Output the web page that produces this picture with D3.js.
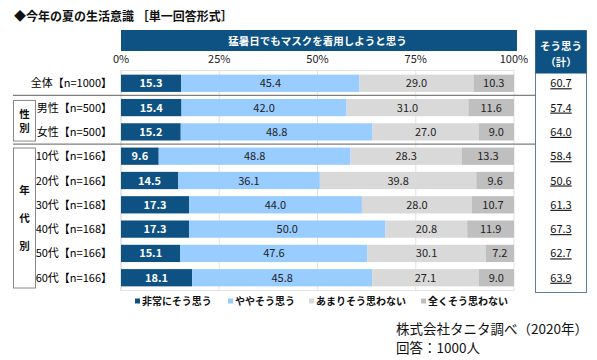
<!DOCTYPE html>
<html>
<head>
<meta charset="utf-8">
<script src="https://cdn.jsdelivr.net/npm/d3@7"></script>
<style>
  body { margin: 0; background: #fff; }
  svg { font-family: "Noto Sans CJK JP", "Noto Sans", sans-serif; }
</style>
</head>
<body>
<svg id="chart" width="597" height="360"></svg>
<script>
let categories = ["全体【n=1000】", "男性【n=500】", "女性【n=500】", "10代【n=166】", "20代【n=166】",
  "30代【n=168】", "40代【n=168】", "50代【n=166】", "60代【n=166】"];
let seriesNames = ["非常にそう思う", "ややそう思う", "あまりそう思わない", "全くそう思わない"];
let veryMuch = [15.3, 15.4, 15.2, 9.6, 14.5, 17.3, 17.3, 15.1, 18.1];
let somewhat = [45.4, 42.0, 48.8, 48.8, 36.1, 44.0, 50.0, 47.6, 45.8];
let notMuch = [29.0, 31.0, 27.0, 28.3, 39.8, 28.0, 20.8, 30.1, 27.1];
let notAtAll = [10.3, 11.6, 9.0, 13.3, 9.6, 10.7, 11.9, 7.2, 9.0];
let totals = ["60.7", "57.4", "64.0", "58.4", "50.6", "61.3", "67.3", "62.7", "63.9"];
let ticks = [0, 25, 50, 75, 100];
let colors = ["#0e5183", "#99ccff", "#d9d9d9", "#bfbfbf"];
let textColors = ["#fff", "#222", "#222", "#222"];

let svg = d3.select("#chart");

let x = d3.scaleLinear().domain([0, 100]).range([121, 514]);
let y = d3.scaleBand().domain(categories).range([71, 290]).paddingInner(0.29).paddingOuter(0.15);

// title
svg.append("text").attr("x", 14).attr("y", 21)
  .attr("font-size", 12).attr("font-weight", "bold").attr("fill", "#111")
  .text("◆今年の夏の生活意識 ［単一回答形式］");

// header bar
svg.append("rect").attr("x", x(0)).attr("y", 30).attr("width", x(100) - x(0) + 3).attr("height", 21)
  .attr("fill", "#0e5183");
svg.append("text").attr("x", (x(0) + x(100)) / 2).attr("y", 45)
  .attr("text-anchor", "middle").attr("font-size", 10.5).attr("font-weight", "bold").attr("fill", "#fff")
  .text("猛暑日でもマスクを着用しようと思う");

// grid + ticks
svg.append("g").selectAll("line").data(ticks.slice(1)).join("line")
  .attr("x1", d => x(d)).attr("x2", d => x(d)).attr("y1", 70).attr("y2", 291)
  .attr("stroke", "#e4e4e4").attr("stroke-width", 1);
svg.append("line").attr("x1", x(0)).attr("x2", x(0)).attr("y1", 70).attr("y2", 291)
  .attr("stroke", "#d0d0d0");
svg.append("line").attr("x1", x(0)).attr("x2", x(100)).attr("y1", 70.5).attr("y2", 70.5)
  .attr("stroke", "#e4e4e4");
svg.append("line").attr("x1", x(0)).attr("x2", x(100)).attr("y1", 290.5).attr("y2", 290.5)
  .attr("stroke", "#e4e4e4");
svg.append("g").selectAll("text").data(ticks).join("text")
  .attr("x", d => x(d)).attr("y", 63).attr("text-anchor", "middle")
  .attr("font-size", 11).attr("fill", "#222").text(d => d + "%");

// stacked bars
let rows = categories.map((c, i) => ({cat: c, vals: [veryMuch[i], somewhat[i], notMuch[i], notAtAll[i]]}));
let stack = d3.stack().keys([0, 1, 2, 3]).value((d, k) => d.vals[k]);
let layers = stack(rows);

let g = svg.append("g");
layers.forEach((layer, k) => {
  g.append("g").selectAll("rect").data(layer).join("rect")
    .attr("x", d => x(d[0])).attr("y", d => y(d.data.cat))
    .attr("width", d => x(d[1]) - x(d[0])).attr("height", y.bandwidth())
    .attr("fill", colors[k]);
  g.append("g").selectAll("text").data(layer).join("text")
    .attr("x", d => x((d[0] + d[1]) / 2)).attr("y", d => y(d.data.cat) + y.bandwidth() / 2 + 4)
    .attr("text-anchor", "middle").attr("font-size", 11)
    .attr("font-weight", k === 0 ? "bold" : "normal")
    .attr("fill", textColors[k]).text(d => d.data.vals[k].toFixed(1));
});

// category labels
svg.append("g").selectAll("text").data(categories).join("text")
  .attr("x", 112).attr("y", d => y(d) + y.bandwidth() / 2 + 4)
  .attr("text-anchor", "end").attr("font-size", 11)
  .attr("fill", "#000").text(d => d);

// group separators
let sep1 = (y(categories[0]) + y.bandwidth() + y(categories[1])) / 2;
let sep2 = (y(categories[2]) + y.bandwidth() + y(categories[3])) / 2;
[sep1, sep2].forEach(s => {
  svg.append("line").attr("x1", 13).attr("x2", 587).attr("y1", s).attr("y2", s)
    .attr("stroke", "#7f7f7f").attr("stroke-width", 1.2);
});

// group boxes
function groupBox(y0, y1, chars, gap) {
  svg.append("rect").attr("x", 13.5).attr("y", y0).attr("width", 22).attr("height", y1 - y0)
    .attr("fill", "#fff").attr("stroke", "#888");
  let mid = (y0 + y1) / 2;
  chars.forEach((ch, i) => {
    let cy = mid + (i - (chars.length - 1) / 2) * gap;
    svg.append("text").attr("x", 24.5).attr("y", cy + 4)
      .attr("text-anchor", "middle").attr("font-size", 10.5).attr("font-weight", "bold")
      .attr("fill", "#111").text(ch);
  });
}
groupBox(sep1 + 5, sep2 - 3, ["性", "別"], 14);
groupBox(sep2 + 4, 288, ["年", "代", "別"], 28);

// right column
svg.append("rect").attr("x", 535.5).attr("y", 30.5).attr("width", 51).attr("height", 262)
  .attr("fill", "#fff").attr("stroke", "#5b7f9e");
svg.append("rect").attr("x", 535.5).attr("y", 30.5).attr("width", 51).attr("height", 43)
  .attr("fill", "#0e5183");
svg.append("text").attr("x", 561).attr("y", 50).attr("text-anchor", "middle")
  .attr("font-size", 10.5).attr("font-weight", "bold").attr("fill", "#fff").text("そう思う");
svg.append("text").attr("x", 561).attr("y", 66).attr("text-anchor", "middle")
  .attr("font-size", 10.5).attr("font-weight", "bold").attr("fill", "#fff").text("（計）");
svg.append("g").selectAll("text").data(totals).join("text")
  .attr("x", 561).attr("y", (d, i) => y(categories[i]) + y.bandwidth() / 2 + 4)
  .attr("text-anchor", "middle").attr("font-size", 11).attr("fill", "#111")
  .attr("text-decoration", "underline").text(d => d);

// legend
let legendX = [135, 228, 309, 421];
let legend = svg.append("g").selectAll("g").data(seriesNames).join("g")
  .attr("transform", (d, i) => `translate(${legendX[i]},305)`);
legend.append("rect").attr("x", 0).attr("y", -6.5).attr("width", 5).attr("height", 5)
  .attr("fill", (d, i) => colors[i]);
legend.append("text").attr("x", 7).attr("y", 0).attr("font-size", 10).attr("font-weight", "bold")
  .attr("fill", "#111").text(d => d);

// source
svg.append("text").attr("x", 396).attr("y", 334).attr("font-size", 13.5).attr("fill", "#111")
  .text("株式会社タニタ調べ（2020年）");
svg.append("text").attr("x", 396).attr("y", 353).attr("font-size", 13.5).attr("fill", "#111")
  .text("回答：1000人");
</script>
</body>
</html>
